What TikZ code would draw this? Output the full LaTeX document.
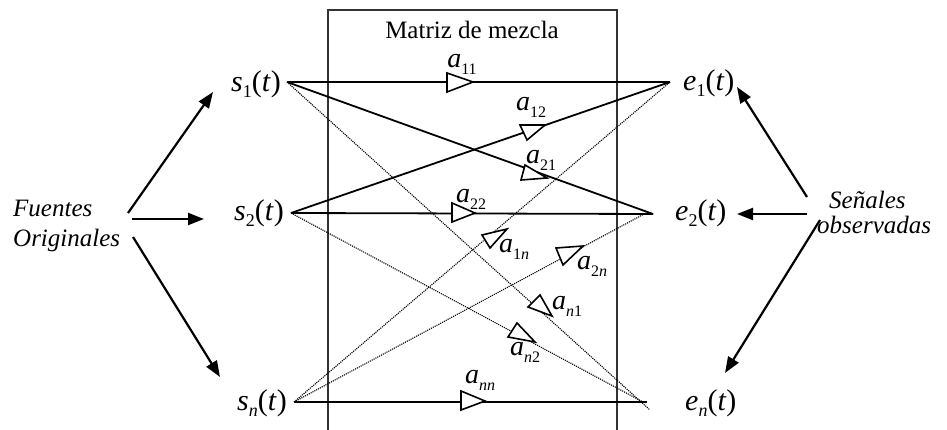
\documentclass[tikz,border=0pt]{standalone}
\usepackage{fontspec}
\setmainfont{Liberation Serif}
\usetikzlibrary{arrows.meta}
\newcommand\subsz{\fontsize{16}{16}\selectfont}
\newcommand\sigsub{\fontsize{18}{18}\selectfont}
\newcommand\sgl[2]{\textit{#1}\raisebox{-0.45ex}{\sigsub #2}(\textit{t})}
\newcommand\gan[1]{\textit{a}\raisebox{-0.55ex}{\subsz #1}}
\begin{document}
\begin{tikzpicture}[x=1pt,y=-1pt]
\tikzset{
  sig/.style={font=\fontsize{30}{30}\selectfont, inner sep=0pt},
  gainlbl/.style={font=\fontsize{28}{28}\selectfont, inner sep=0pt},
  caption/.style={font=\fontsize{25}{30}\selectfont\itshape, inner sep=0pt, anchor=base west},
  solidline/.style={line width=1.8pt},
  dotline/.style={line width=1.1pt, densely dotted, black},
  gaintri/.style={draw, line width=1.6pt, fill=white, line join=miter},
  boxline/.style={line width=1.1pt, black!80},
  bigarrow/.style={line width=2.2pt, -{Triangle[length=16pt,width=12pt]}}
}
\useasboundingbox (0,0) rectangle (947,430);

% mixing matrix box
\draw[boxline] (328,432) -- (328,10) -- (617,10) -- (617,432);
\node[font=\fontsize{25}{25}\selectfont, inner sep=0pt] (title) at (472,30) {Matriz de mezcla};

% signal nodes
\node[sig, anchor=east] (s1) at (281,84) {\sgl{s}{1}};
\node[sig, anchor=east] (s2) at (284,213) {\sgl{s}{2}};
\node[sig, anchor=east] (sn) at (287,403) {\sgl{s}{\textit{n}}};
\node[sig, anchor=west] (e1) at (683,83) {\sgl{e}{1}};
\node[sig, anchor=west] (e2) at (675,213) {\sgl{e}{2}};
\node[sig, anchor=west] (en) at (685,403) {\sgl{e}{\textit{n}}};

% connection points
\coordinate (s1o) at (287,82);
\coordinate (s2o) at (291,213);
\coordinate (sno) at (294,402);
\coordinate (e1i) at (670,82);
\coordinate (e2i) at (653,214);
\coordinate (e2d) at (646,213);
\coordinate (eni) at (647,402);
\coordinate (en1) at (650,410);
\coordinate (en2) at (643,402);

% dotted cross connections
\draw[dotline] (s1o) -- (en1);
\draw[dotline] (s2o) -- (en2);
\draw[dotline] (sno) -- (e1i);
\draw[dotline] (sno) -- (e2d);

% solid connections
\draw[solidline] (s1o) -- (e1i);
\draw[solidline] (s1o) -- (e2i);
\draw[solidline] (s2o) -- (e1i);
\draw[solidline] (s2o) -- (e2i);
\draw[solidline] (sno) -- (eni);

% gain triangles
\draw[gaintri] (447,73) -- (447,92) -- (473,82) -- cycle;
\draw[gaintri] (520,125) -- (527,140) -- (545,125) -- cycle;
\draw[gaintri] (525,165) -- (521,180) -- (547,178) -- cycle;
\draw[gaintri] (452,203) -- (452,222) -- (475,213) -- cycle;
\draw[gaintri] (482,235) -- (507,229) -- (490,248) -- cycle;
\draw[gaintri] (556,248) -- (583,246) -- (563,265) -- cycle;
\draw[gaintri] (540,295) -- (528,307) -- (552,316) -- cycle;
\draw[gaintri] (517,323) -- (508,337) -- (535,342) -- cycle;
\draw[gaintri] (461,391) -- (461,410) -- (485,401) -- cycle;

% gain labels
\node[gainlbl] (a11) at (462,64) {\gan{11}};
\node[gainlbl] (a12) at (531,107) {\gan{12}};
\node[gainlbl] (a21) at (541,160) {\gan{21}};
\node[gainlbl] (a22) at (471,199) {\gan{22}};
\node[gainlbl] (a1n) at (514,249) {\gan{1\textit{n}}};
\node[gainlbl] (a2n) at (592,266) {\gan{2\textit{n}}};
\node[gainlbl] (an1) at (567,306) {\gan{\textit{n}1}};
\node[gainlbl] (an2) at (525,352) {\gan{\textit{n}2}};
\node[gainlbl] (ann) at (480,380) {\gan{\textit{nn}}};

% captions
\node[caption] (fu) at (13,217) {Fuentes};
\node[caption] (or) at (13,247) {Originales};
\node[caption] (se) at (829,209) {Señales};
\node[caption] (ob) at (817,234) {observadas};

% big arrows
\coordinate (fa1) at (128,213);
\coordinate (fa2) at (132,219);
\coordinate (fa3) at (133,237);
\coordinate (ta1) at (213,92);
\coordinate (ta2) at (204,219);
\coordinate (ta3) at (220,377);
\draw[bigarrow] (fa1) -- (ta1);
\draw[bigarrow] (fa2) -- (ta2);
\draw[bigarrow] (fa3) -- (ta3);
\coordinate (ga1) at (807,197);
\coordinate (ga2) at (807,214);
\coordinate (ga3) at (820,220);
\coordinate (tb1) at (737,87);
\coordinate (tb2) at (737,214);
\coordinate (tb3) at (725,373);
\draw[bigarrow] (ga1) -- (tb1);
\draw[bigarrow] (ga2) -- (tb2);
\draw[bigarrow] (ga3) -- (tb3);
\end{tikzpicture}
\end{document}
